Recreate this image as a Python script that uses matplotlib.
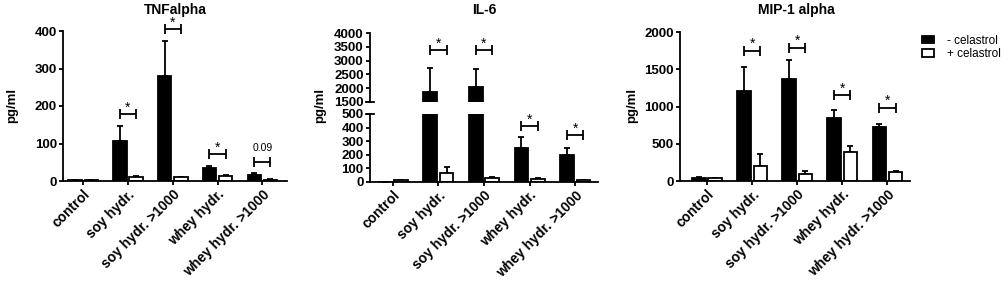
import matplotlib
matplotlib.use("Agg")
import matplotlib.pyplot as plt
import numpy as np
from matplotlib.patches import Patch

plt.rcParams['font.family'] = ['Liberation Sans', 'DejaVu Sans']

categories = ['control', 'soy hydr.', 'soy hydr. >1000', 'whey hydr.', 'whey hydr. >1000']

# TNFalpha
tnf_minus = [3, 108, 280, 36, 17]
tnf_minus_err = [1, 40, 93, 3, 5]
tnf_plus = [3, 10, 10, 13, 4]
tnf_plus_err = [1, 4, 2, 2, 1]
tnf_sig_y = [None, 179, 405, 72, 51]
tnf_sig = ['', '*', '*', '*', '0.09']

# IL-6
il6_minus = [1, 1850, 2030, 250, 195]
il6_minus_err = [0, 870, 650, 80, 55]
il6_plus = [12, 65, 30, 25, 15]
il6_plus_err = [3, 45, 6, 5, 3]
il6_sig_y = [None, 3380, 3380, 412, 345]
il6_sig = ['', '*', '*', '*', '*']

# MIP-1 alpha
mip_minus = [35, 1210, 1375, 850, 720]
mip_minus_err = [12, 320, 245, 100, 40]
mip_plus = [35, 205, 100, 385, 120]
mip_plus_err = [8, 155, 30, 85, 8]
mip_sig_y = [None, 1750, 1790, 1154, 984]
mip_sig = ['', '*', '*', '*', '*']

W, H = 1008, 284
fig = plt.figure(figsize=(W / 100, H / 100), dpi=100)

LW = 1.3
BW = 0.3
OFF = 0.18
x = np.arange(len(categories))


def style(ax, bottom=True):
    for s in ['top', 'right']:
        ax.spines[s].set_visible(False)
    ax.spines['left'].set_linewidth(LW)
    ax.spines['bottom'].set_linewidth(LW)
    ax.tick_params(axis='both', direction='out', length=3, width=LW, labelsize=9.5, pad=1.5)
    for lab in ax.get_yticklabels():
        lab.set_fontweight('bold')
    if not bottom:
        ax.spines['bottom'].set_visible(False)
        ax.set_xticks([])


def bars(ax, minus, minus_err, plus, plus_err):
    zeros = np.zeros(len(x))
    ax.bar(x - OFF, minus, BW, color='black', edgecolor='black', linewidth=LW, zorder=2)
    ax.bar(x + OFF, plus, BW, color='white', edgecolor='black', linewidth=LW, zorder=2)
    ax.errorbar(x - OFF, minus, yerr=[zeros, minus_err], fmt='none', ecolor='black',
                elinewidth=LW, capsize=2.5, capthick=LW, zorder=1)
    ax.errorbar(x + OFF, plus, yerr=[zeros, plus_err], fmt='none', ecolor='black',
                elinewidth=LW, capsize=2.5, capthick=LW, zorder=1)


def xlabels(ax):
    ax.set_xticks(x)
    ax.set_xticklabels(categories, rotation=45, ha='right', rotation_mode='anchor',
                       fontsize=10, fontweight='bold')


def brackets(ax, i, y, label):
    lo, hi = ax.get_ylim()
    px = (hi - lo) / (ax.get_position().height * H)
    cap = 5 * px
    x0, x1 = i - OFF, i + OFF
    kw = dict(color='black', lw=LW, clip_on=False, solid_capstyle='butt')
    ax.plot([x0, x1], [y, y], **kw)
    ax.plot([x0, x0], [y - cap, y + cap], **kw)
    ax.plot([x1, x1], [y - cap, y + cap], **kw)
    if label == '*':
        ax.annotate(label, (i, y), xytext=(0, 1.8), textcoords='offset points',
                    ha='center', va='baseline', fontsize=10, annotation_clip=False)
    else:
        ax.annotate(label, (i, y), xytext=(0, 7.5), textcoords='offset points',
                    ha='center', va='baseline', fontsize=7.5, annotation_clip=False)


# Panel 1
ax1 = fig.add_axes([63 / W, 103 / H, 224 / W, 150 / H])
bars(ax1, tnf_minus, tnf_minus_err, tnf_plus, tnf_plus_err)
ax1.set_xlim(-0.45, 4.55)
ax1.set_ylim(0, 400)
ax1.set_yticks([0, 100, 200, 300, 400])
style(ax1)
xlabels(ax1)
for i, (yv, s) in enumerate(zip(tnf_sig_y, tnf_sig)):
    if yv is not None:
        brackets(ax1, i, yv, s)

# Panel 2 (broken axis)
ax2l = fig.add_axes([370 / W, 102 / H, 228 / W, 68 / H])
ax2u = fig.add_axes([370 / W, 182 / H, 228 / W, 69 / H])
for ax in (ax2l, ax2u):
    bars(ax, il6_minus, il6_minus_err, il6_plus, il6_plus_err)
    ax.set_xlim(-0.5, 4.5)
ax2l.set_ylim(0, 500)
ax2l.set_yticks(range(0, 501, 100))
ax2u.set_ylim(1500, 4000)
ax2u.set_yticks(range(1500, 4001, 500))
style(ax2l)
style(ax2u, bottom=False)
xlabels(ax2l)
for ax in (ax2l, ax2u):
    ax.plot([-0.018, 0.018], [1 if ax is ax2l else 0] * 2, transform=ax.transAxes,
            color='black', lw=LW, clip_on=False)
for i, (yv, s) in enumerate(zip(il6_sig_y, il6_sig)):
    if yv is not None:
        brackets(ax2u if yv > 1500 else ax2l, i, yv, s)

# Panel 3
ax3 = fig.add_axes([680 / W, 103 / H, 230 / W, 149 / H])
bars(ax3, mip_minus, mip_minus_err, mip_plus, mip_plus_err)
ax3.set_xlim(-0.6, 4.5)
ax3.set_ylim(0, 2000)
ax3.set_yticks([0, 500, 1000, 1500, 2000])
style(ax3)
xlabels(ax3)
for i, (yv, s) in enumerate(zip(mip_sig_y, mip_sig)):
    if yv is not None:
        brackets(ax3, i, yv, s)

# titles and y labels
for xc, t in [(175, 'TNFalpha'), (484, 'IL-6'), (796, 'MIP-1 alpha')]:
    fig.text(xc / W, 1 - 10 / H, t, ha='center', va='center', fontsize=10, fontweight='bold')
for xc in [12, 320, 632]:
    fig.text(xc / W, 1 - 105 / H, 'pg/ml', rotation=90, ha='center', va='center',
             fontsize=9.5, fontweight='bold')

handles = [Patch(facecolor='black', edgecolor='black', linewidth=LW),
           Patch(facecolor='white', edgecolor='black', linewidth=LW)]
fig.legend(handles, ['- celastrol', '+ celastrol'], loc='upper left',
           bbox_to_anchor=(922 / W, 1 - 35 / H), frameon=False, fontsize=8.5,
           handlelength=1.0, handleheight=0.55, handletextpad=1.1, labelspacing=0.1,
           borderpad=0, borderaxespad=0)

fig.savefig('out.png', dpi=100)
